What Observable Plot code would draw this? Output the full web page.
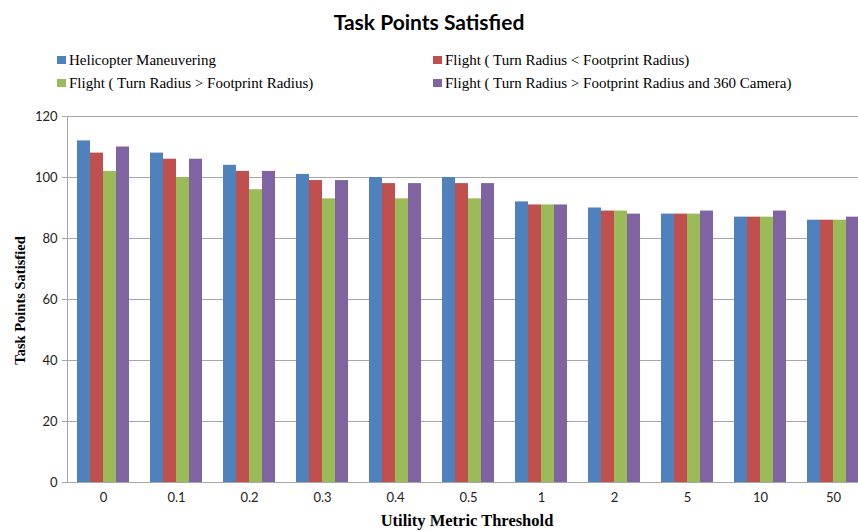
<!DOCTYPE html>
<html><head><meta charset="utf-8">
<script src="https://cdn.jsdelivr.net/npm/d3@7"></script>
<script src="https://cdn.jsdelivr.net/npm/@observablehq/plot@0.6"></script>
<style>
body{margin:0;background:#fff;width:858px;height:531px;overflow:hidden;position:relative}
#title{position:absolute;top:8px;left:0;width:858px;text-align:center;font:bold 21px Lato, sans-serif;color:#000;line-height:28px}
.leg{position:absolute;font:15px "Liberation Serif", "Times New Roman", serif;white-space:nowrap;line-height:18px;color:#000}
.sw{position:absolute;left:-12px;top:5px;width:9px;height:8px}
#chart{position:absolute;top:100px;left:0;width:858px;height:431px;overflow:hidden}
#chart svg{position:absolute;top:0;left:0}
</style></head>
<body>
<div id="title"></div>
<div id="legend"></div>
<div id="chart"></div>
<script>
const titleText = "Task Points Satisfied";
const yTitle = "Task Points Satisfied";
const xTitle = "Utility Metric Threshold";
const thresholds = ["0","0.1","0.2","0.3","0.4","0.5","1","2","5","10","50"];
const series = [
  "Helicopter Maneuvering",
  "Flight ( Turn Radius < Footprint Radius)",
  "Flight ( Turn Radius > Footprint Radius)",
  "Flight ( Turn Radius > Footprint Radius and 360 Camera)"
];
const colors = ["#4F81BD","#C0504D","#9BBB59","#8064A2"];
const helicopter    = [112,108,104,101,100,100,92,90,88,87,86];
const flightLess    = [108,106,102, 99, 98, 98,91,89,88,87,86];
const flightGreater = [102,100, 96, 93, 93, 93,91,89,88,87,86];
const flight360     = [110,106,102, 99, 98, 98,91,88,89,89,87];
const yTicks = [0,20,40,60,80,100,120];

const values = [helicopter, flightLess, flightGreater, flight360];
const data = [];
thresholds.forEach((t,i)=>series.forEach((s,j)=>data.push({threshold:t, series:s, value:values[j][i]})));

document.getElementById("title").textContent = titleText;
const legPos = [[69,51],[445,51],[69,74],[445,74]];
const legend = document.getElementById("legend");
series.forEach((s,i)=>{
  const d = document.createElement("div");
  d.className = "leg";
  d.style.left = legPos[i][0]+"px"; d.style.top = legPos[i][1]+"px";
  const sw = document.createElement("span"); sw.className="sw"; sw.style.background = colors[i];
  d.appendChild(sw);
  d.appendChild(document.createTextNode(s));
  legend.appendChild(d);
});

const grid = "#a6a6a6";
const dims = {width: 858, height: 431, marginLeft: 67, marginRight: -12, marginTop: 16, marginBottom: 49};

// background layer: grid, y axis, titles
const back = Plot.plot({
  ...dims,
  style: {fontFamily: "Lato, sans-serif", fontSize: "13px", background: "white", color: "#000"},
  y: {domain: [0,120], axis: null},
  marks: [
    Plot.ruleY(yTicks, {stroke: grid, strokeWidth: 1}),
    Plot.frame({anchor: "left", stroke: grid}),
    Plot.axisY(yTicks, {tickSize: 5, tickPadding: 5, stroke: grid, fill: "#222", label: null, fontSize: 13}),
    Plot.text([yTitle], {text: d=>d, frameAnchor: "left", textAnchor: "middle", lineAnchor: "middle", rotate: -90, dx: -47, dy: 1, fontFamily: "Liberation Serif, serif", fontWeight: "bold", fontSize: 14.5, fill: "#000"}),
    Plot.text([xTitle], {text: d=>d, frameAnchor: "bottom", textAnchor: "middle", lineAnchor: "middle", dy: 38, dx: -2, fontFamily: "Liberation Serif, serif", fontWeight: "bold", fontSize: 16.5, fill: "#000"})
  ]
});

// bar layer: faceted by threshold
const bars = Plot.plot({
  ...dims,
  style: {fontFamily: "Lato, sans-serif", fontSize: "13px", background: "transparent", color: "#000"},
  fx: {domain: thresholds, paddingInner: 0.26, paddingOuter: 0.13, label: null},
  x: {domain: series, padding: 0, axis: null},
  y: {domain: [0,120], axis: null},
  color: {domain: series, range: colors},
  marks: [
    Plot.barY(data, {fx: "threshold", x: "series", y: "value", fill: "series"}),
    Plot.axisFx({anchor: "bottom", tickSize: 0, tickPadding: 10, label: null, fontSize: 13, fill: "#222"})
  ]
});
const c = document.getElementById("chart");
c.appendChild(back);
c.appendChild(bars);
</script>
</body></html>
